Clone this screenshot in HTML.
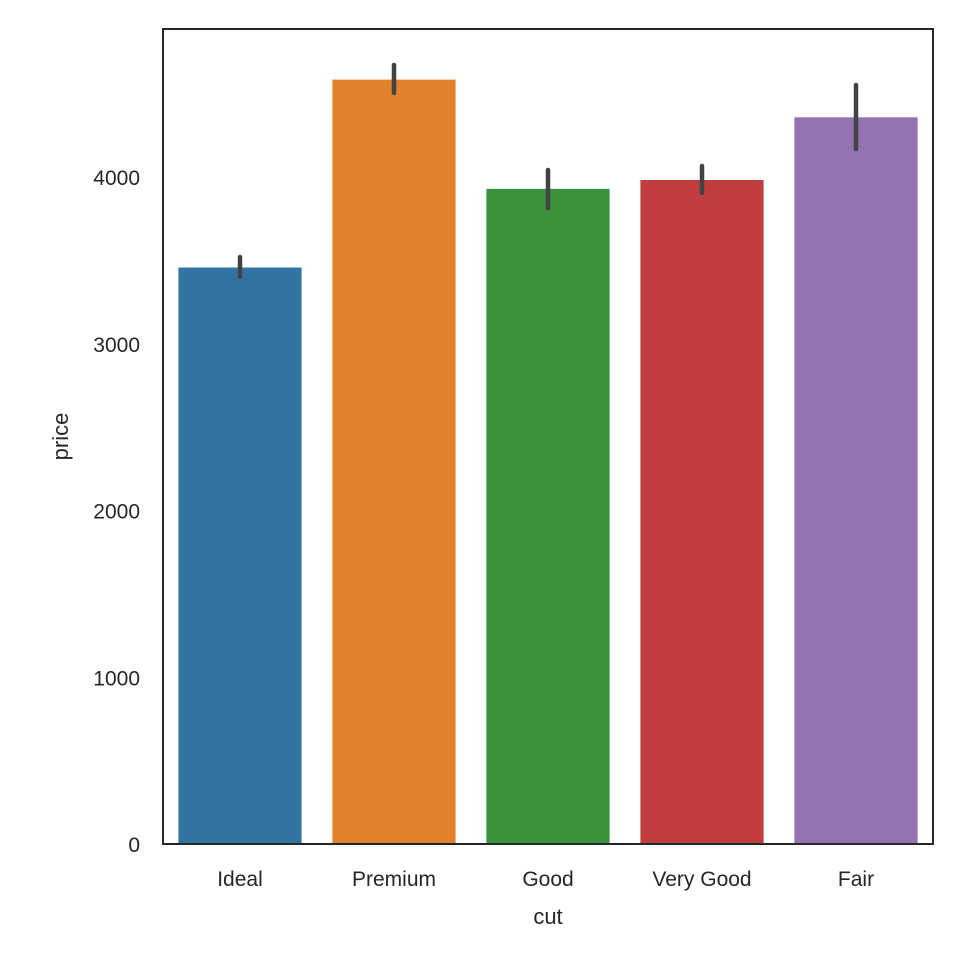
<!DOCTYPE html>
<html><head><meta charset="utf-8"><style>
body{margin:0;background:#fff;}
svg text{font-family:"Liberation Sans",sans-serif;fill:#262626;}
</style></head><body>
<svg id="chart" width="960" height="960"></svg>
<script>
const categories=["Ideal","Premium","Good","Very Good","Fair"];
const values=[3457,4584,3929,3982,4358];
const errLow=[3400,4504,3814,3904,4168];
const errHigh=[3520,4672,4042,4066,4552];
const colors=["#3274a1","#e1812c","#3a923a","#c03d3e","#9372b2"];
const yTicks=[0,1000,2000,3000,4000];
const L=163,R=933,T=29,B=844,yMax=(B-T)/166.75*1000;
const svg=document.getElementById('chart');
const NS="http://www.w3.org/2000/svg";
function y(v){return B-(v/yMax)*(B-T);}
const band=(R-L)/categories.length;
function xc(i){return L+band*(i+0.5);}
function mk(tag,attrs,parent){const e=document.createElementNS(NS,tag);for(const k in attrs)e.setAttribute(k,attrs[k]);(parent||svg).appendChild(e);return e;}
categories.forEach((c,i)=>{
  const w=band*0.8;
  const r=mk('rect',{x:xc(i)-w/2,y:y(values[i]),width:w,height:B-y(values[i]),fill:colors[i]});
  
  
  const l=mk('line',{x1:xc(i),x2:xc(i),y1:y(errLow[i]),y2:y(errHigh[i]),stroke:'#424242','stroke-width':4.5,'stroke-linecap':'round'});
  
  
  const t=mk('text',{x:xc(i),y:B+42,'text-anchor':'middle','font-size':21});
  t.textContent=c;
  
  
});
yTicks.forEach(v=>{
  const t=mk('text',{x:140,y:y(v)+8,'text-anchor':'end','font-size':21});
  t.textContent=v;
  
  
});
const f=mk('rect',{x:L,y:T,width:R-L,height:B-T,fill:'none',stroke:'#262626','stroke-width':2});


const xt=mk('text',{x:(L+R)/2,y:924,'text-anchor':'middle','font-size':22});
xt.textContent='cut';


const yt=mk('text',{x:68,y:(T+B)/2,'text-anchor':'middle','font-size':22,transform:'rotate(-90 68 '+(T+B)/2+')'});
yt.textContent='price';


</script>
</body></html>
